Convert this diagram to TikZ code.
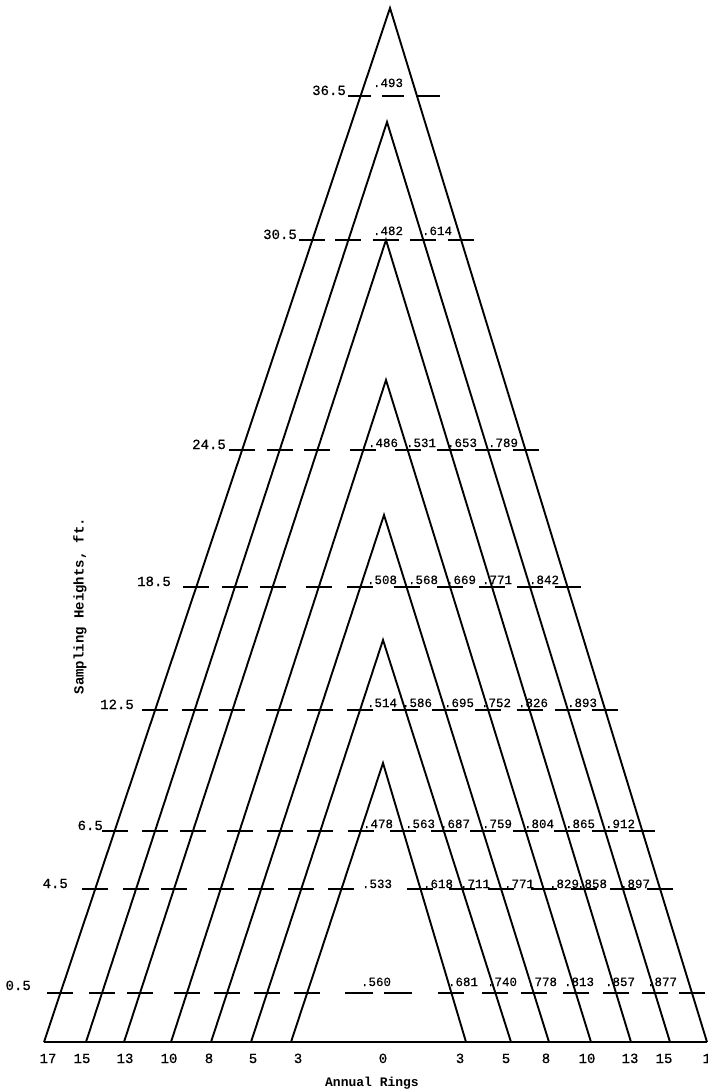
\documentclass[tikz,border=0pt]{standalone}
\usepackage{fontspec}
\newfontfamily\tw[FakeBold=0.5]{Liberation Mono}
\newfontfamily\twb{Liberation Mono Bold}
\usetikzlibrary{calc}

\def\base{1042}

% dashes centred on the crossings of one sampling height (#1) with the ring
% lines; #2 lists ring number / height of its apex
\newcommand\rowcross[2]{%
  \foreach \k/\ay in {#2} {
    \pgfmathsetmacro\tfrac{(#1-\ay)/(\base-\ay)}
    \coordinate (cl) at ($(A\k)!\tfrac!(L\k)$);
    \coordinate (cr) at ($(A\k)!\tfrac!(R\k)$);
    \draw[tick] ([xshift=-13pt]cl) -- ([xshift=13pt]cl);
    \draw[tick] ([xshift=-13pt]cr) -- ([xshift=13pt]cr);
  }}

\begin{document}
\begin{tikzpicture}[x=1pt,y=-1pt,
  ring/.style={line width=1.9pt, line join=miter},
  tick/.style={line width=2.6pt},
  val/.style={font=\tw\fontsize{12.5}{12.5}\selectfont, anchor=base, inner sep=0pt},
  hgt/.style={font=\tw\fontsize{14}{14}\selectfont, anchor=base east, inner sep=0pt},
  ringno/.style={font=\tw\fontsize{14}{14}\selectfont, anchor=base, inner sep=0pt},
  title/.style={font=\twb\fontsize{13}{13}\selectfont, inner sep=0pt}]

\fill[white] (0,0) rectangle (708,1091);
\useasboundingbox (0,0) rectangle (708,1091);

% apex and base ends of each ring outline
\foreach \k/\ax/\ay/\lx/\rx in {17/390/8/44/707, 15/387/122/86/670,
    13/386/240/124/631, 10/386/380/171/591, 8/384/515/211/549,
    5/383/640/251/511, 3/383/763/291/466} {
  \coordinate (A\k) at (\ax,\ay);
  \coordinate (L\k) at (\lx,\base);
  \coordinate (R\k) at (\rx,\base);
}

% ring outlines and the stump line
\foreach \k in {17,15,13,10,8,5,3}
  \draw[ring] (L\k) -- (A\k) -- (R\k);
\draw[ring] (L17) -- (R17);

% sampling heights
\draw[tick] (348,96) -- (371,96);
\draw[tick] (382,96) -- (404,96);
\draw[tick] (416,96) -- (440,96);
\rowcross{240}{17/8,15/122}
\rowcross{450}{17/8,15/122,13/240,10/380}
\rowcross{587}{17/8,15/122,13/240,10/380,8/515}
\rowcross{710}{17/8,15/122,13/240,10/380,8/515,5/640}
\rowcross{831}{17/8,15/122,13/240,10/380,8/515,5/640,3/763}
\rowcross{889}{17/8,15/122,13/240,10/380,8/515,5/640,3/763}
\rowcross{993}{17/8,15/122,13/240,10/380,8/515,5/640,3/763}

% dashes at the pith
\draw[tick] (373,240) -- (399,240);
\draw[tick] (345,993) -- (373,993);
\draw[tick] (384,993) -- (412,993);

% height labels
\node[hgt] (h365) at (346,95) {36.5};
\node[hgt] (h305) at (297,239) {30.5};
\node[hgt] (h245) at (226,449) {24.5};
\node[hgt] (h185) at (171,586) {18.5};
\node[hgt] (h125) at (134,709) {12.5};
\node[hgt] (h65)  at (103,830) {6.5};
\node[hgt] (h45)  at (68,888)  {4.5};
\node[hgt] (h05)  at (31,990)  {0.5};

% specific gravity values
\node[val] (v1) at (388,87) {.493};

\node[val] (v2) at (388,235) {.482};
\node[val] (v3) at (437,235) {.614};

\foreach \x/\t [count=\i] in {383/.486, 421/.531, 462/.653, 503/.789}
  \node[val] (va\i) at (\x,447) {\t};

\foreach \x/\t [count=\i] in {382/.508, 423/.568, 461/.669, 497/.771, 544/.842}
  \node[val] (vb\i) at (\x,584) {\t};

\foreach \x/\t [count=\i] in {382/.514, 417/.586, 459/.695, 496/.752, 533/.826, 582/.893}
  \node[val] (vc\i) at (\x,707) {\t};

\foreach \x/\t [count=\i] in {378/.478, 420/.563, 455/.687, 497/.759, 539/.804, 580/.865, 620/.912}
  \node[val] (vd\i) at (\x,828) {\t};

\foreach \x/\t [count=\i] in {377/.533, 438/.618, 475/.711, 519/.771, 564/.829, 592/.858, 635/.897}
  \node[val] (ve\i) at (\x,888) {\t};

\foreach \x/\t [count=\i] in {376/.560, 463/.681, 502/.740, 542/.778, 579/.813, 620/.857, 662/.877}
  \node[val] (vf\i) at (\x,986) {\t};

% ring numbers along the base
\foreach \x/\t [count=\i] in {48/17, 82/15, 125/13, 169/10, 209/8, 253/5, 298/3,
    383/0, 460/3, 506/5, 546/8, 587/10, 630/13, 664/15, 711/17}
  \node[ringno] (n\i) at (\x,1063) {\t};

% axis titles
\node[title, anchor=base] (xt) at (372,1086) {Annual Rings};
\node[title, font=\twb\fontsize{14}{14}\selectfont, rotate=90] (yt) at (80,606) {Sampling Heights, ft.};
\end{tikzpicture}
\end{document}
